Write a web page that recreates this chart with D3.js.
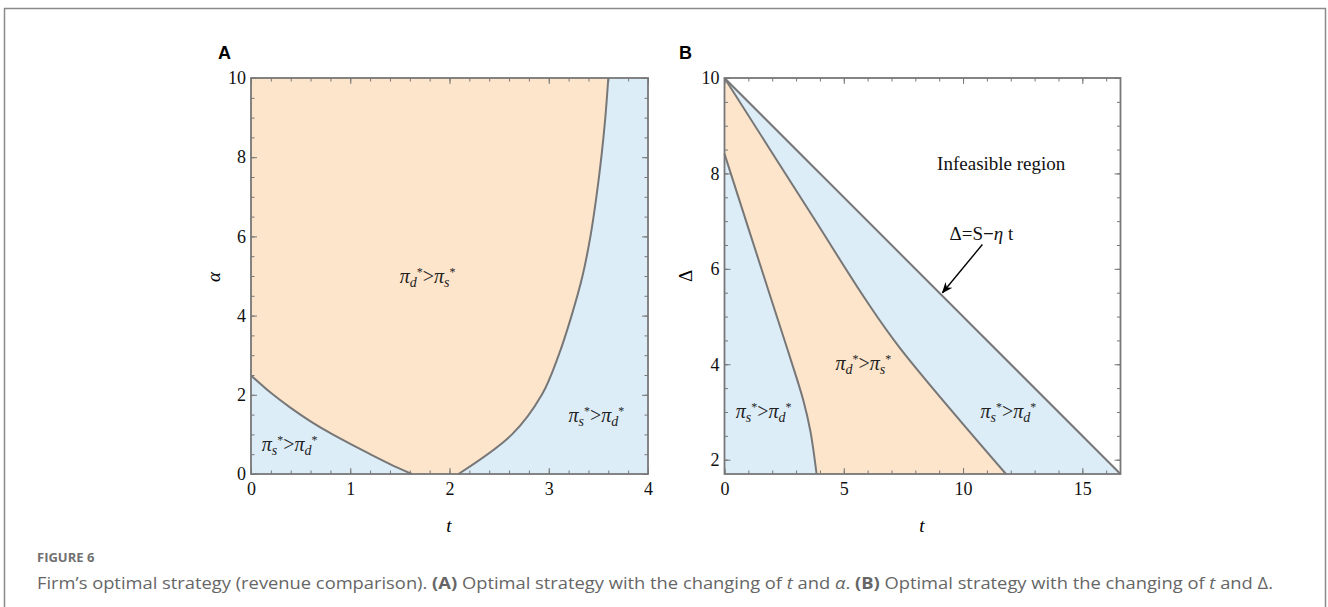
<!DOCTYPE html>
<html>
<head>
<meta charset="utf-8">
<script src="https://cdn.jsdelivr.net/npm/d3@7"></script>
<style>
  body { margin: 0; background: #fff; }
  svg { display: block; }
  .tick text { font-family: "Liberation Serif", "Times New Roman", serif; font-size: 18px; fill: #111; }
  .tick line { stroke: #777; stroke-width: 1; }
</style>
</head>
<body>
<svg id="fig" width="1328" height="607"></svg>
<script>
// panel A: boundaries in (t, alpha)
var aLower = [[0, 2.49], [0.2, 2.05], [0.4, 1.67], [0.6, 1.33], [0.8, 1.03], [1.0, 0.76], [1.2, 0.50], [1.4, 0.25], [1.62, 0]];
var aRight = [[2.09, 0], [2.63, 1], [2.93, 2], [3.10, 3], [3.23, 4], [3.34, 5], [3.42, 6], [3.48, 7], [3.53, 8], [3.57, 9], [3.60, 10]];
var aXTicks = [0, 1, 2, 3, 4];
var aYTicks = [0, 2, 4, 6, 8, 10];

// panel B: boundaries in (t, Delta)
var bOuter = [[0, 10], [16.6, 1.7]];
var bMiddle = [[0, 10], [3.72, 7.08], [5.95, 5.33], [7.34, 4.35], [11.8, 1.7]];
var bLeft = [[0, 8.41], [1.98, 5.33], [2.75, 4.14], [3.3, 3.25], [3.6, 2.6], [3.86, 1.7]];
var bXTicks = [0, 5, 10, 15];
var bYTicks = [2, 4, 6, 8, 10];

var orange = "#fde5cb", blue = "#ddedf8", edge = "#777";

var svg = d3.select("#fig");

// outer frame of the figure
svg.append("rect")
    .attr("x", 4.5).attr("y", 8.5)
    .attr("width", 1321).attr("height", 620)
    .attr("fill", "none").attr("stroke", "#8a8a8a").attr("stroke-width", 1.5);

function frameAxes(g, x, y, xt, yt, xminor, yminor, w, h) {
  g.append("g").attr("transform", "translate(0," + h + ")")
    .call(d3.axisBottom(x).tickValues(xminor).tickSize(-3.5).tickFormat(""));
  g.append("g").call(d3.axisTop(x).tickValues(xminor).tickSize(-3.5).tickFormat(""));
  g.append("g").call(d3.axisLeft(y).tickValues(yminor).tickSize(-3.5).tickFormat(""));
  g.append("g").attr("transform", "translate(" + w + ",0)")
    .call(d3.axisRight(y).tickValues(yminor).tickSize(-3.5).tickFormat(""));

  g.append("g").attr("transform", "translate(0," + h + ")")
    .call(d3.axisBottom(x).tickValues(xt).tickSize(-6).tickPadding(8).tickFormat(d3.format("d")))
    .selectAll(".tick text").attr("dy", "0.71em");
  g.append("g").call(d3.axisTop(x).tickValues(xt).tickSize(-6).tickFormat(""));
  g.append("g").call(d3.axisLeft(y).tickValues(yt).tickSize(-6).tickPadding(5).tickFormat(d3.format("d")));
  g.append("g").attr("transform", "translate(" + w + ",0)")
    .call(d3.axisRight(y).tickValues(yt).tickSize(-6).tickFormat(""));
  g.selectAll(".domain").remove();

  g.append("rect").attr("width", w).attr("height", h)
    .attr("fill", "none").attr("stroke", edge).attr("stroke-width", 1.8);
}

function piLabel(g, cx, cy, first, second) {
  var t = g.append("text")
      .attr("x", cx).attr("y", cy)
      .attr("text-anchor", "middle")
      .style("font-family", "Liberation Serif, Times New Roman, serif")
      .style("font-style", "italic")
      .style("font-size", "20px")
      .attr("fill", "#222");
  t.append("tspan").text("\u03c0");
  t.append("tspan").attr("dy", 4).style("font-size", "14px").text(first);
  t.append("tspan").attr("dy", -11).style("font-size", "12px").style("font-style", "normal").text("*");
  t.append("tspan").attr("dy", 7).style("font-style", "normal").text(">");
  t.append("tspan").text("\u03c0");
  t.append("tspan").attr("dy", 4).style("font-size", "14px").text(second);
  t.append("tspan").attr("dy", -11).style("font-size", "12px").style("font-style", "normal").text("*");
}

// ---------- panel A ----------
var wA = 397, hA = 396;
var gA = svg.append("g").attr("transform", "translate(251,78)");
var xA = d3.scaleLinear().domain([0, 4]).range([0, wA]);
var yA = d3.scaleLinear().domain([0, 10]).range([hA, 0]);
var smoothA = d3.line().curve(d3.curveCatmullRom.alpha(0.5))
    .x(function(d) { return xA(d[0]); }).y(function(d) { return yA(d[1]); });

gA.append("rect").attr("width", wA).attr("height", hA).attr("fill", blue);

// orange region: lower curve, bottom gap, right curve, top edge back to left
var orangeA = smoothA(aLower) + "L" + smoothA(aRight).slice(1) +
    "L" + xA(0) + "," + yA(10) + "Z";
gA.append("path").attr("d", orangeA).attr("fill", orange);

gA.append("path").attr("d", smoothA(aLower)).attr("fill", "none").attr("stroke", edge).attr("stroke-width", 2);
gA.append("path").attr("d", smoothA(aRight)).attr("fill", "none").attr("stroke", edge).attr("stroke-width", 2);

frameAxes(gA, xA, yA, aXTicks, aYTicks, d3.range(0, 4.01, 0.2), d3.range(0, 10.01, 0.5), wA, hA);

piLabel(gA, xA(1.78), yA(4.93) + 4, "d", "s");
piLabel(gA, xA(0.39), yA(0.67) + 4, "s", "d");
piLabel(gA, xA(3.48), yA(1.41) + 4, "s", "d");

svg.append("text").attr("x", 218).attr("y", 59)
    .style("font-family", "Liberation Sans, Arial, sans-serif").style("font-weight", "bold")
    .style("font-size", "18px").text("A");
svg.append("text").attr("transform", "translate(220,277) rotate(-90)")
    .attr("text-anchor", "middle")
    .style("font-family", "Liberation Serif, serif").style("font-style", "italic")
    .style("font-size", "19px").text("\u03b1");
svg.append("text").attr("x", 449).attr("y", 532).attr("text-anchor", "middle")
    .style("font-family", "Liberation Serif, serif").style("font-style", "italic")
    .style("font-size", "19px").text("t");

// ---------- panel B ----------
var wB = 396, hB = 396;
var gB = svg.append("g").attr("transform", "translate(724.5,78)");
var xB = d3.scaleLinear().domain([0, 16.6]).range([0, wB]);
var yB = d3.scaleLinear().domain([1.7, 10]).range([hB, 0]);
var smoothB = d3.line().curve(d3.curveCatmullRom.alpha(0.5))
    .x(function(d) { return xB(d[0]); }).y(function(d) { return yB(d[1]); });
var straightB = d3.line()
    .x(function(d) { return xB(d[0]); }).y(function(d) { return yB(d[1]); });

gB.append("rect").attr("width", wB).attr("height", hB).attr("fill", "#fff");

// feasible triangle below the outer line
gB.append("path")
    .attr("d", straightB(bOuter) + "L" + xB(0) + "," + yB(1.7) + "Z")
    .attr("fill", blue);

// orange band between left and middle boundaries
var leftRev = bLeft.slice().reverse();
var orangeB = smoothB(bMiddle) + "L" + smoothB(leftRev).slice(1) + "L" + xB(0) + "," + yB(10) + "Z";
gB.append("path").attr("d", orangeB).attr("fill", orange);

gB.append("path").attr("d", straightB(bOuter)).attr("fill", "none").attr("stroke", edge).attr("stroke-width", 2);
gB.append("path").attr("d", smoothB(bMiddle)).attr("fill", "none").attr("stroke", edge).attr("stroke-width", 2);
gB.append("path").attr("d", smoothB(bLeft)).attr("fill", "none").attr("stroke", edge).attr("stroke-width", 2);

frameAxes(gB, xB, yB, bXTicks, bYTicks, d3.range(0, 16.61, 1), d3.range(2, 10.01, 0.5), wB, hB);

piLabel(gB, xB(1.64), yB(2.96) + 4, "s", "d");
piLabel(gB, xB(5.82), yB(3.96) + 4, "d", "s");
piLabel(gB, xB(11.9), yB(2.96) + 4, "s", "d");

gB.append("text").attr("x", xB(11.6)).attr("y", yB(8.2) + 6)
    .attr("text-anchor", "middle")
    .style("font-family", "Liberation Serif, serif").style("font-size", "19px")
    .attr("fill", "#111").text("Infeasible region");

var eq = gB.append("text").attr("x", xB(10.77)).attr("y", yB(6.74) + 6)
    .attr("text-anchor", "middle")
    .style("font-family", "Liberation Serif, serif").style("font-size", "19px")
    .attr("fill", "#111");
eq.append("tspan").text("\u0394=S");
eq.append("tspan").style("font-weight", "bold").text("\u2212");
eq.append("tspan").style("font-style", "italic").text("\u03b7");
eq.append("tspan").text(" t");

// arrow pointing at the outer line
svg.append("defs").append("marker")
    .attr("id", "head").attr("viewBox", "0 0 10 10")
    .attr("refX", 9).attr("refY", 5)
    .attr("markerWidth", 8).attr("markerHeight", 8)
    .attr("orient", "auto")
  .append("path").attr("d", "M0,1 L10,5 L0,9 L3,5 Z").attr("fill", "#000");
gB.append("line")
    .attr("x1", xB(10.81)).attr("y1", yB(6.51))
    .attr("x2", xB(9.14)).attr("y2", yB(5.50))
    .attr("stroke", "#000").attr("stroke-width", 1.4)
    .attr("marker-end", "url(#head)");

svg.append("text").attr("x", 679).attr("y", 59)
    .style("font-family", "Liberation Sans, Arial, sans-serif").style("font-weight", "bold")
    .style("font-size", "18px").text("B");
svg.append("text").attr("transform", "translate(692,276) rotate(-90)")
    .attr("text-anchor", "middle")
    .style("font-family", "Liberation Serif, serif")
    .style("font-size", "19px").text("\u0394");
svg.append("text").attr("x", 922).attr("y", 532).attr("text-anchor", "middle")
    .style("font-family", "Liberation Serif, serif").style("font-style", "italic")
    .style("font-size", "19px").text("t");

// ---------- caption ----------
svg.append("text").attr("x", 37).attr("y", 562)
    .style("font-family", "Open Sans, sans-serif").style("font-weight", "bold")
    .style("font-size", "13px").attr("fill", "#707070").text("FIGURE 6");

var cap = svg.append("text").attr("x", 37).attr("y", 589)
    .style("font-family", "Open Sans, sans-serif")
    .style("font-size", "16px").attr("fill", "#666")
    .attr("textLength", 1236).attr("lengthAdjust", "spacingAndGlyphs");
cap.append("tspan").text("Firm\u2019s optimal strategy (revenue comparison). ");
cap.append("tspan").style("font-weight", "bold").text("(A)");
cap.append("tspan").text(" Optimal strategy with the changing of ");
cap.append("tspan").style("font-style", "italic").text("t");
cap.append("tspan").text(" and ");
cap.append("tspan").style("font-style", "italic").text("\u03b1");
cap.append("tspan").text(". ");
cap.append("tspan").style("font-weight", "bold").text("(B)");
cap.append("tspan").text(" Optimal strategy with the changing of ");
cap.append("tspan").style("font-style", "italic").text("t");
cap.append("tspan").text(" and \u0394.");
</script>
</body>
</html>
